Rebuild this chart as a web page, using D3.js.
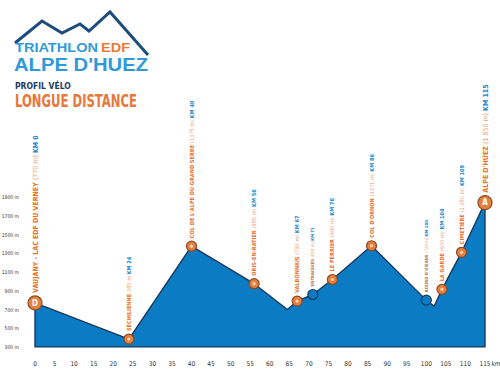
<!DOCTYPE html>
<html><head><meta charset="utf-8">
<script src="https://cdn.jsdelivr.net/npm/d3@7"></script>
<style>
html,body{margin:0;padding:0;background:#fff;}
svg{display:block;}
</style></head>
<body>
<script>
// ---- DATA ----
const profileKm   = [0, 24, 40, 56, 64.5, 67, 71, 76, 86, 100, 102, 104, 109, 115];
const profileElev = [770, 385, 1375, 975, 700, 790, 860, 1020, 1380, 800, 735, 915, 1310, 1840];

const stopKm    = [0, 24, 40, 56, 67, 71, 76, 86, 100, 104, 109, 115];
const stopNames = ["VAUJANY - LAC EDF DU VERNEY", "SÉCHILIENNE", "COL DE L'ALPE DU GRAND SERRE", "ORIS-EN-RATIER",
                   "VALBONNAIS", "ENTRAIGUES", "LE PERRIER", "COL D'ORNON", "BOURG D'OISANS", "LA GARDE", "CIMETIÈRE", "ALPE D'HUEZ"];
const stopAlt   = ["(770 m)", "385 m", "(1375 m)", "(985 m)", "(790 m)", "(818 m)", "(990 m)", "(1371 m)", "(720 m)", "(900 m)", "(1 280 m)", "(1 850 m)"];
const stopType  = ["start", "stop", "stop", "stop", "stop", "pass", "stop", "stop", "pass", "stop", "stop", "finish"];

const xTicks = [0,5,10,15,20,25,30,35,40,45,50,55,60,65,70,75,80,85,90,95,100,105,110,115];
const yTicks = [300,500,700,900,1100,1300,1500,1700,1900];
const yTickLabels = ["300 m","500 m","700 m","900 m","1100 m","1300 m","1500 m","1700 m","1900 m"];

// ---- CHART ----
const W = 500, H = 383;
const svg = d3.select("body").append("svg").attr("width", W).attr("height", H);
const FN = "'Liberation Sans Narrow','DejaVu Sans Condensed','Liberation Sans',sans-serif";

const x = d3.scaleLinear().domain([0, 115]).range([35, 485]);
const y = d3.scaleLinear().domain([300, 1900]).range([347, 197]);

// header / logo
const logo = svg.append("g");
logo.append("path")
  .attr("d", "M15,43 L42,21 L62,33 L80,24 L89,31 L110,12 L148,55")
  .attr("fill", "none").attr("stroke", "#1d4d7c").attr("stroke-width", 3).attr("stroke-linejoin", "miter");
logo.append("text").attr("x", 15).attr("y", 52).attr("font-family", "'Liberation Sans',Arial,sans-serif")
  .attr("font-weight", "bold").attr("font-size", 13).attr("fill", "#2f9ad8")
  .attr("textLength", 83).attr("lengthAdjust", "spacingAndGlyphs").text("TRIATHLON");
logo.append("text").attr("x", 101).attr("y", 52).attr("font-family", "'Liberation Sans',Arial,sans-serif")
  .attr("font-weight", "bold").attr("font-size", 13).attr("fill", "#ea7a32")
  .attr("textLength", 29).attr("lengthAdjust", "spacingAndGlyphs").text("EDF");
logo.append("text").attr("x", 14).attr("y", 71).attr("font-family", "'Liberation Sans',Arial,sans-serif")
  .attr("font-weight", "bold").attr("font-size", 18).attr("fill", "#2f9ad8")
  .attr("textLength", 134).attr("lengthAdjust", "spacingAndGlyphs").text("ALPE D'HUEZ");
svg.append("text").attr("x", 15).attr("y", 89).attr("font-family", FN).attr("font-weight", "bold")
  .attr("font-size", 8.5).attr("fill", "#1f3b5e").text("PROFIL VÉLO");
svg.append("text").attr("x", 15).attr("y", 107).attr("font-family", FN).attr("font-weight", "bold")
  .attr("font-size", 18).attr("fill", "#e8773a")
  .attr("textLength", 122).attr("lengthAdjust", "spacingAndGlyphs").text("LONGUE DISTANCE");

// area
const pts = profileKm.map((k, i) => [k, profileElev[i]]);
const base = 301;
const area = d3.area().x(d => x(d[0])).y0(y(base)).y1(d => y(d[1])).curve(d3.curveLinear);
svg.append("path").datum(pts).attr("d", area)
  .attr("fill", "#0b7cc3").attr("stroke", "#17395e").attr("stroke-width", 1.4).attr("stroke-linejoin", "round");

// y axis labels
svg.append("g").selectAll("text").data(yTicks).join("text")
  .attr("x", 19).attr("y", d => y(d) + 2).attr("text-anchor", "end")
  .attr("font-family", FN).attr("font-size", 5).attr("fill", "#333").text((d, i) => yTickLabels[i]);

// x axis labels
svg.append("g").selectAll("text").data(xTicks).join("text")
  .attr("x", d => x(d)).attr("y", 366).attr("text-anchor", "middle")
  .attr("font-family", FN).attr("font-size", 6.5).attr("fill", "#333").text(d => d);
svg.append("text").attr("x", 496).attr("y", 366).attr("text-anchor", "middle")
  .attr("font-family", FN).attr("font-size", 6.5).attr("fill", "#333").text("km");

// stops
const elevAt = k => {
  for (let i = 1; i < profileKm.length; i++) {
    if (k <= profileKm[i]) {
      const t = (k - profileKm[i-1]) / (profileKm[i] - profileKm[i-1]);
      return profileElev[i-1] + t * (profileElev[i] - profileElev[i-1]);
    }
  }
  return profileElev[profileElev.length - 1];
};
const stops = stopKm.map((k, i) => ({k, e: elevAt(k), name: stopNames[i], alt: stopAlt[i], type: stopType[i]}));
const radius = t => (t === "start" || t === "finish") ? 7 : 5;
const fsize = t => (t === "start" || t === "finish") ? 7 : (t === "pass" ? 4.3 : 5.6);

const sg = svg.append("g").selectAll("g").data(stops).join("g");
sg.append("circle")
  .attr("cx", d => x(d.k)).attr("cy", d => y(d.e)).attr("r", d => radius(d.type))
  .attr("fill", d => d.type === "pass" ? "#0b7cc3" : "#e5803f")
  .attr("stroke", d => d.type === "pass" ? "#17395e" : "#8a4a22").attr("stroke-width", 1.2);
sg.filter(d => d.type === "stop").append("circle")
  .attr("cx", d => x(d.k)).attr("cy", d => y(d.e)).attr("r", 1.6).attr("fill", "#f6d2b5");
sg.filter(d => d.type === "start" || d.type === "finish").append("text")
  .attr("x", d => x(d.k)).attr("y", d => y(d.e) + 2.6).attr("text-anchor", "middle")
  .attr("font-family", FN).attr("font-weight", "bold").attr("font-size", 8).attr("fill", "#fff")
  .text(d => d.type === "start" ? "D" : "A");

const lab = sg.append("text")
  .attr("transform", d => `translate(${x(d.k) + fsize(d.type) * 0.36},${y(d.e) - radius(d.type) - 3}) rotate(-90)`)
  .attr("font-family", FN).attr("font-size", d => fsize(d.type));
lab.append("tspan").attr("font-weight", "bold")
  .attr("fill", d => d.type === "pass" ? "#b07a55" : "#e4742c").text(d => d.name + " ");
lab.append("tspan").attr("fill", "#eea47a").text(d => d.alt + " ");
lab.append("tspan").attr("font-weight", "bold").attr("fill", "#1c86c9").text(d => "KM " + d.k);
</script>
</body></html>
